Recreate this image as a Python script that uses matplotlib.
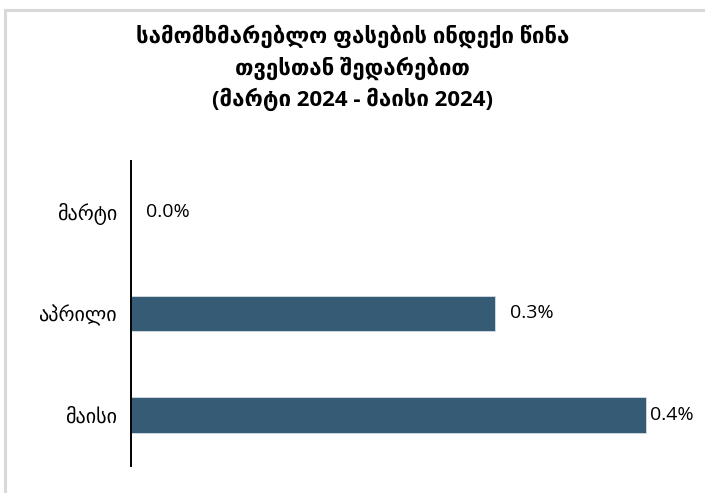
import matplotlib
matplotlib.use('Agg')
import matplotlib.pyplot as plt
from matplotlib.lines import Line2D

plt.rcParams['font.family'] = ['Open Sans', 'DejaVu Sans']

# data
months = ['მარტი', 'აპრილი', 'მაისი']
values = [0.0, 0.29, 0.41]
value_labels = ['0.0%', '0.3%', '0.4%']
title = ('სამომხმარებლო ფასების ინდექი წინა\n'
         'თვესთან შედარებით\n'
         '(მარტი 2024 - მაისი 2024)')

bar_color = '#365b74'

fig = plt.figure(figsize=(7.05, 4.93), dpi=100)
ax = fig.add_axes([131 / 705, 27 / 493, 565 / 705, 305 / 493])

ypos = range(len(months))
ax.barh(ypos, values, height=0.35, color=bar_color, edgecolor='#d6dee4', linewidth=0.6)
ax.set_ylim(2.5, -0.5)
ax.set_xlim(0, 0.45)

ax.set_yticks(list(ypos))
ax.set_yticklabels(months, fontsize=14.5)
ax.tick_params(axis='y', length=0, pad=10)
ax.set_xticks([])
for side in ['top', 'right', 'bottom']:
    ax.spines[side].set_visible(False)
ax.spines['left'].set_linewidth(1.4)

vmax = max(values)
for i, (v, lab) in enumerate(zip(values, value_labels)):
    off = 3 if v == vmax else 11
    ax.annotate(lab, (v, i), xytext=(off, 0), textcoords='offset points',
                va='center', ha='left', fontsize=14)

fig.text(0.5, 1 - 68 / 493, title, ha='center', va='center', fontsize=16,
         fontweight='bold', linespacing=1.45)

# light border (left and top) around the chart area
x0, y0 = 5 / 705, 1 - 10 / 493
fig.add_artist(Line2D([x0, x0], [0, y0], transform=fig.transFigure,
                      color='#d9d9d9', linewidth=2.2))
fig.add_artist(Line2D([x0, 1], [y0, y0], transform=fig.transFigure,
                      color='#d9d9d9', linewidth=2.2))

fig.savefig('out.png', dpi=100)
